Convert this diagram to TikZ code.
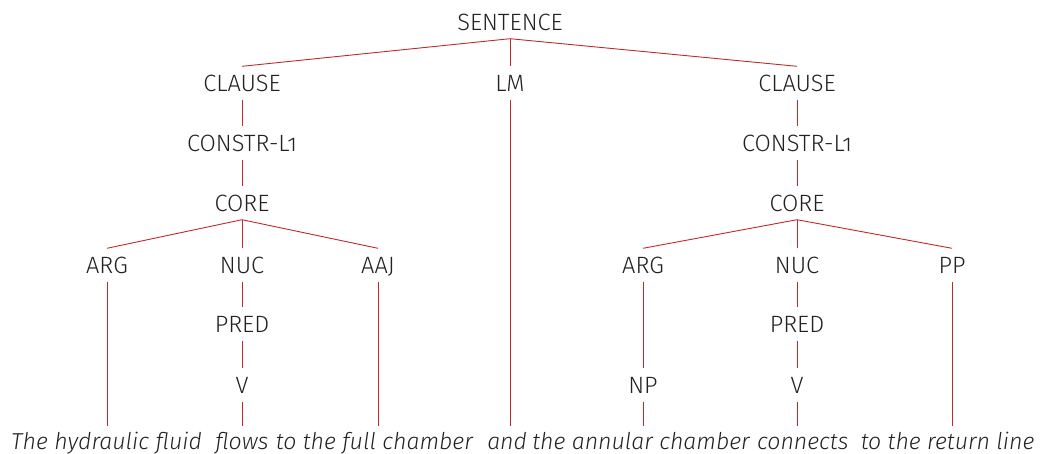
\documentclass[tikz,border=0pt]{standalone}
\usepackage{fontspec}
\setmainfont{Fira Sans Light}[Numbers=OldStyle, ItalicFont=Fira Sans Light Italic]
\definecolor{ink}{HTML}{222222}
\definecolor{branch}{HTML}{C3282A}
\begin{document}
\begin{tikzpicture}[x=1pt,y=-1pt,
  lab/.style={text=ink, font=\fontsize{23.6}{26}\selectfont, text height=17pt, text depth=0pt, inner xsep=0pt, inner ysep=8pt},
  word/.style={text=ink, font=\fontsize{23.1}{26}\selectfont\itshape, text height=17pt, text depth=5pt, inner xsep=0pt, inner ysep=6pt, anchor=base west},
  edge/.style={draw=branch, line width=0.9pt}]
\useasboundingbox (0,0) rectangle (1045,453);
% nodes
\node[lab] (S)   at (510,22)  {SENTENCE};
\node[lab] (C1)  at (242,83)  {CLAUSE};
\node[lab] (LM)  at (510,83)  {LM};
\node[lab] (C2)  at (797,83)  {CLAUSE};
\node[lab] (K1)  at (242,143) {CONSTR-L1};
\node[lab] (K2)  at (797,143) {CONSTR-L1};
\node[lab] (R1)  at (242,203) {CORE};
\node[lab] (R2)  at (797,203) {CORE};
\node[lab] (A1)  at (107,265) {ARG};
\node[lab] (N1)  at (242,265) {NUC};
\node[lab] (J1)  at (378,265) {AAJ};
\node[lab] (A2)  at (643,265) {ARG};
\node[lab] (N2)  at (797,265) {NUC};
\node[lab] (P2)  at (952,265) {PP};
\node[lab] (PR1) at (242,324) {PRED};
\node[lab] (PR2) at (797,324) {PRED};
\node[lab] (V1)  at (242,385) {V};
\node[lab] (NP2) at (643,385) {NP};
\node[lab] (V2)  at (797,385) {V};
% sentence
\node[word] (w1) at (11,449) {The hydraulic fluid};
\node[word] (w2) at ([xshift=13pt]w1.base east) {flows};
\node[word] (w3) at ([xshift=7pt]w2.base east) {to the full chamber};
\node[word] (w4) at ([xshift=14pt]w3.base east) {and};
\node[word] (w5) at ([xshift=5pt]w4.base east) {the annular chamber};
\node[word] (w6) at ([xshift=7pt]w5.base east) {connects};
\node[word] (w7) at ([xshift=12pt]w6.base east) {to the return line};
% edges
\draw[edge] (S.south) -- (C1.north);
\draw[edge] (S.south) -- (LM.north);
\draw[edge] (S.south) -- (C2.north);
\draw[edge] (C1.south) -- (K1.north);
\draw[edge] (C2.south) -- (K2.north);
\draw[edge] (K1.south) -- (R1.north);
\draw[edge] (K2.south) -- (R2.north);
\draw[edge] (R1.south) -- (A1.north);
\draw[edge] (R1.south) -- (N1.north);
\draw[edge] (R1.south) -- (J1.north);
\draw[edge] (R2.south) -- (A2.north);
\draw[edge] (R2.south) -- (N2.north);
\draw[edge] (R2.south) -- (P2.north);
\draw[edge] (N1.south) -- (PR1.north);
\draw[edge] (N2.south) -- (PR2.north);
\draw[edge] (PR1.south) -- (V1.north);
\draw[edge] (PR2.south) -- (V2.north);
\draw[edge] (A2.south) -- (NP2.north);
\draw[edge] (A1.south) -- (A1.south |- w1.north);
\draw[edge] (V1.south) -- (V1.south |- w2.north);
\draw[edge] (J1.south) -- (J1.south |- w3.north);
\draw[edge] (LM.south) -- (LM.south |- w4.north);
\draw[edge] (NP2.south) -- (NP2.south |- w5.north);
\draw[edge] (V2.south) -- (V2.south |- w6.north);
\draw[edge] (P2.south) -- (P2.south |- w7.north);
\end{tikzpicture}
\end{document}
